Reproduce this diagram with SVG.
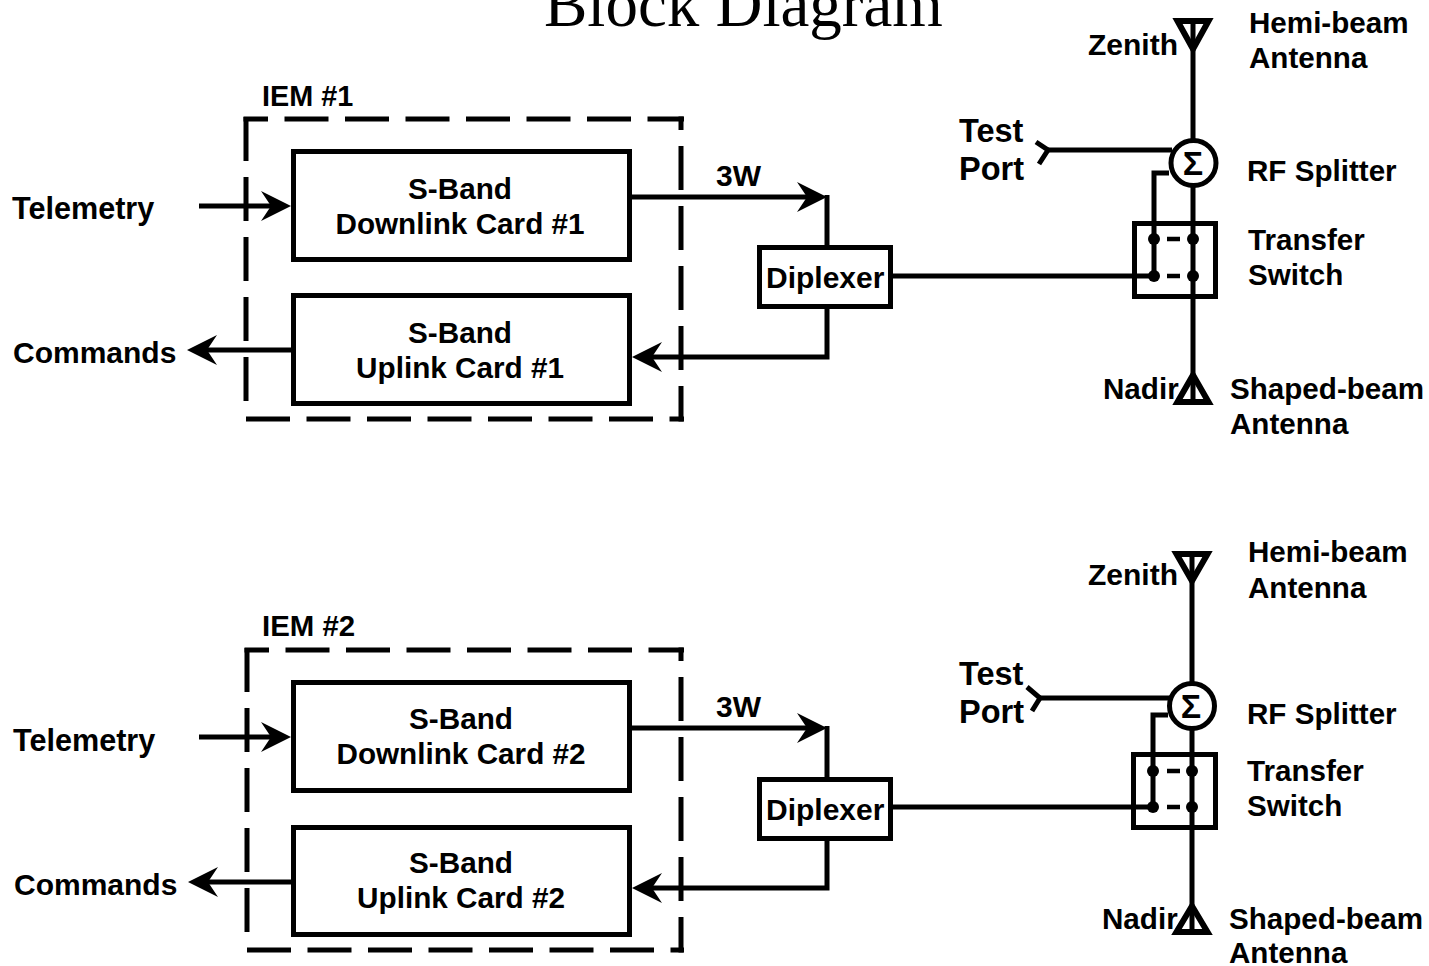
<svg xmlns="http://www.w3.org/2000/svg" width="1429" height="966" viewBox="0 0 1429 966">
<style>
text{font-family:"Liberation Sans",Arial,sans-serif;font-weight:700;font-size:30px;fill:#000}
.t{font-family:"Liberation Serif","Times New Roman",serif;font-weight:400;font-size:65px}
.m{text-anchor:middle;font-size:29.7px}
.r{font-size:29.6px}
.b{font-size:32.5px}
.s{font-size:34px;text-anchor:middle}
.l{font-size:30.6px}
.box{fill:#fff;stroke:#000;stroke-width:5}
.sw{fill:none;stroke:#000;stroke-width:5}
.an{fill:none;stroke:#000;stroke-width:6}
.ln{fill:none;stroke:#000;stroke-width:5}
.ar{fill:none;stroke:#000;stroke-width:5;marker-end:url(#ah)}
.ds{fill:none;stroke:#000;stroke-width:5;stroke-dasharray:44 16.5}
.dv{fill:none;stroke:#000;stroke-width:5;stroke-dasharray:44 16}
.dot{fill:#000}
.da{fill:none;stroke:#000;stroke-width:4.5}
</style>
<defs>
<marker id="ah" markerUnits="userSpaceOnUse" viewBox="0 0 32 32" markerWidth="32" markerHeight="32" refX="10" refY="16" orient="auto"><path d="M30 16L0 1L10 16L0 31Z" fill="#000"/></marker>
</defs>
<rect width="1429" height="966" fill="#fff"/>
<text id="title" class="t" x="544" y="26">Block Diagram</text>

<g id="connectors">
<path class="ar" d="M199 206H271"/>
<path class="ar" d="M293 350H207"/>
<path class="ar" d="M630 197H807"/>
<path class="ln" d="M827 195V248"/>
<path class="ar" d="M827 306V357H652"/>
<path class="ln" d="M890 276H1154"/>
<path class="ln" d="M1193 20V403"/>
<path class="ln" d="M1048 150H1172"/>
<path class="ln" d="M1036 142L1048 150L1039 164"/>
<path class="ln" d="M1169 173H1154V276"/>

<path class="ar" d="M199 737H271"/>
<path class="ar" d="M294 882H208"/>
<path class="ar" d="M630 728H807"/>
<path class="ln" d="M827 726V779"/>
<path class="ar" d="M827 838V888H652"/>
<path class="ln" d="M890 807H1153"/>
<path class="ln" d="M1192 553V933"/>
<path class="ln" d="M1040 698H1170"/>
<path class="ln" d="M1027 687L1040 698L1032 711"/>
<path class="ln" d="M1168 715H1153V807"/>
</g>

<g id="iem1">
<path class="dv" d="M246 117V405"/>
<path class="ds" stroke-dashoffset="19.5" d="M243.5 119H684"/>
<path class="dv" stroke-dashoffset="30.5" d="M681 116.5V421.5"/>
<path class="ds" d="M246 419H684"/>
<text x="262" y="106" style="font-size:28.8px">IEM #1</text>
</g>
<g id="downlink1"><rect class="box" x="293.5" y="151.5" width="336" height="108"/><text class="m" x="460" y="199">S-Band</text><text class="m" x="460" y="234">Downlink Card #1</text></g>
<g id="uplink1"><rect class="box" x="293.5" y="295.5" width="336" height="108"/><text class="m" x="460" y="343">S-Band</text><text class="m" x="460" y="378">Uplink Card #1</text></g>
<g id="telemetry1"><text class="l" x="12" y="219">Telemetry</text></g>
<g id="commands1"><text x="13" y="363">Commands</text></g>
<g id="power1"><text x="716" y="186">3W</text></g>
<g id="diplexer1"><rect class="box" x="759.5" y="247.5" width="131" height="59"/><text x="766" y="288">Diplexer</text></g>
<g id="zenith1"><path class="an" d="M1177.500 21H1208.500L1193 49Z"/><text x="1088" y="55">Zenith</text><text class="r" x="1249" y="33">Hemi-beam</text><text class="r" x="1249" y="68">Antenna</text></g>
<g id="testport1"><text class="b" x="959" y="142">Test</text><text class="b" x="959" y="180">Port</text></g>
<g id="splitter1"><circle class="box" cx="1193.500" cy="163" r="22.500"/><text class="s" x="1193" y="175">Σ</text><text class="r" x="1247" y="181">RF Splitter</text></g>
<g id="switch1"><rect class="sw" x="1134.500" y="223.500" width="81" height="73"/><circle class="dot" cx="1154" cy="239" r="6"/><circle class="dot" cx="1193" cy="239" r="6"/><circle class="dot" cx="1154" cy="276" r="6"/><circle class="dot" cx="1193" cy="276" r="6"/><path class="da" d="M1167 239H1180M1167 276H1180"/><text class="r" x="1248" y="250">Transfer</text><text class="r" x="1248" y="285">Switch</text></g>
<g id="nadir1"><path class="an" d="M1193 375L1177.500 402H1208.500Z"/><text class="r" x="1103" y="399">Nadir</text><text class="r" x="1230" y="399">Shaped-beam</text><text class="r" x="1230" y="434">Antenna</text></g>

<g id="iem2">
<path class="dv" d="M247 648V935"/>
<path class="ds" stroke-dashoffset="19.5" d="M244.500 650H684"/>
<path class="dv" stroke-dashoffset="30.5" d="M681 647.500V952.500"/>
<path class="ds" d="M247 950H684"/>
<text x="262" y="636" style="font-size:29.4px">IEM #2</text>
</g>
<g id="downlink2"><rect class="box" x="293.5" y="682.5" width="336" height="108"/><text class="m" x="461" y="729">S-Band</text><text class="m" x="461" y="764">Downlink Card #2</text></g>
<g id="uplink2"><rect class="box" x="293.5" y="827.5" width="336" height="107"/><text class="m" x="461" y="873">S-Band</text><text class="m" x="461" y="908">Uplink Card #2</text></g>
<g id="telemetry2"><text class="l" x="13" y="751">Telemetry</text></g>
<g id="commands2"><text x="14" y="895">Commands</text></g>
<g id="power2"><text x="716" y="717">3W</text></g>
<g id="diplexer2"><rect class="box" x="759.5" y="779.5" width="131" height="59"/><text x="766" y="820">Diplexer</text></g>
<g id="zenith2"><path class="an" d="M1176.500 554H1207.500L1192 581Z"/><text x="1088" y="585">Zenith</text><text class="r" x="1248" y="562">Hemi-beam</text><text class="r" x="1248" y="598">Antenna</text></g>
<g id="testport2"><text class="b" x="959" y="685">Test</text><text class="b" x="959" y="723">Port</text></g>
<g id="splitter2"><circle class="box" cx="1192" cy="706" r="22.500"/><text class="s" x="1191" y="718">Σ</text><text class="r" x="1247" y="724">RF Splitter</text></g>
<g id="switch2"><rect class="sw" x="1133.500" y="754.500" width="82" height="73"/><circle class="dot" cx="1153" cy="771" r="6"/><circle class="dot" cx="1192" cy="771" r="6"/><circle class="dot" cx="1153" cy="807" r="6"/><circle class="dot" cx="1192" cy="807" r="6"/><path class="da" d="M1167 771H1180M1167 807H1180"/><text class="r" x="1247" y="781">Transfer</text><text class="r" x="1247" y="816">Switch</text></g>
<g id="nadir2"><path class="an" d="M1192 906L1176.500 932H1207.500Z"/><text class="r" x="1102" y="929">Nadir</text><text class="r" x="1229" y="929">Shaped-beam</text><text class="r" x="1229" y="963">Antenna</text></g>
</svg>
